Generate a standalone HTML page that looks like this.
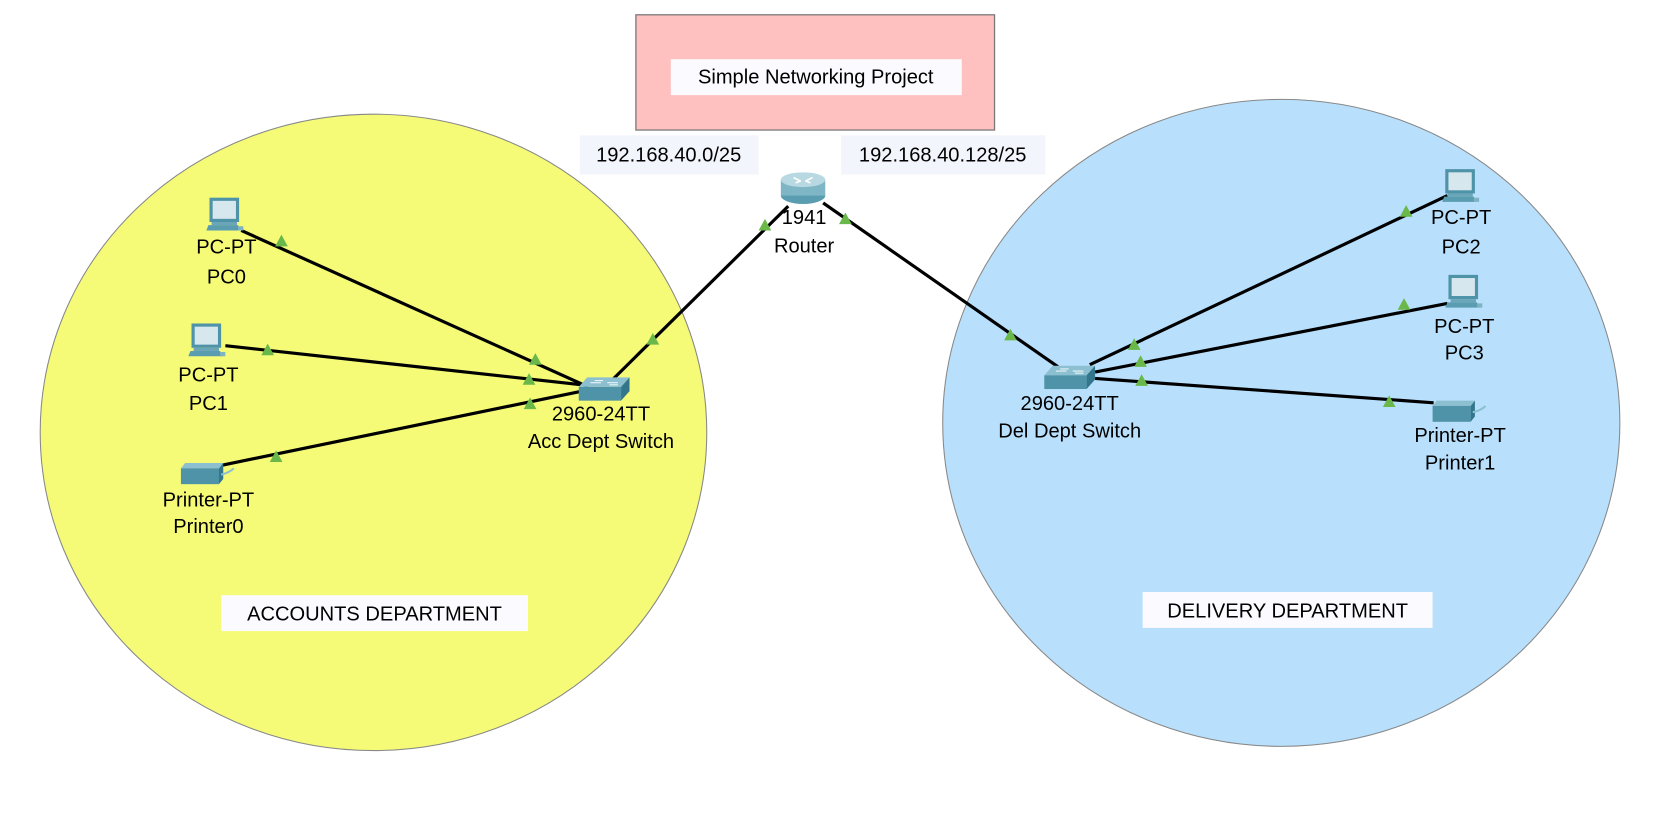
<!DOCTYPE html>
<html><head><meta charset="utf-8"><style>
html,body{margin:0;padding:0;background:#fff;width:1659px;height:814px;overflow:hidden}
svg{display:block}
text{font-family:"Liberation Sans",Arial,sans-serif;font-size:19px;fill:#000;text-anchor:middle}
</style></head><body>
<svg width="1659" height="814" viewBox="0 0 1568 770" preserveAspectRatio="none">
<defs>
<g id="pc">
<rect x="-14" y="-16" width="28" height="23" fill="#4f93a8"/>
<rect x="-11" y="-13" width="22" height="17" fill="#d7e7ee"/>
<rect x="-12" y="7" width="24" height="3" fill="#6aa6b8"/>
<polygon points="-17,15 15,15 13,10 -15,10" fill="#5a9db1"/>
<rect x="13" y="11" width="5" height="4" fill="#7fb3c3"/>
</g>
<g id="sw">
<polygon points="-23,0 -15,-9 25,-9 17,0" fill="#8cc0d0"/>
<rect x="-23" y="0" width="40" height="13" fill="#4f93a8"/>
<polygon points="17,0 25,-9 25,4 17,13" fill="#33768c"/>
<path d="M-12,-4 h10 M4,-4 h10 M-8,-6 h8 M6,-2 h8" stroke="#e8f4f8" stroke-width="1"/>
</g>
<g id="pr">
<polygon points="-19,-4 -15,-9 21,-9 17,-4" fill="#8cc0d0"/>
<rect x="-19" y="-4" width="36" height="15" fill="#4f93a8"/>
<polygon points="17,-4 21,-9 21,6 17,11" fill="#33768c"/>
<path d="M19,2 q8,-2 12,-6" stroke="#8cc0d0" stroke-width="2" fill="none"/>
</g>
<polygon id="tri" points="0,-6 6,5 -6,5" fill="#6ab84a"/>
</defs>
<ellipse cx="353" cy="409" rx="315" ry="301" fill="#f5fb77" stroke="#888" stroke-width="1"/>
<ellipse cx="1211" cy="400" rx="320" ry="306" fill="#b8e0fc" stroke="#888" stroke-width="1"/>
<rect x="601" y="14" width="339" height="109" fill="#ffc0c0" stroke="#777" stroke-width="1.2"/>
<rect x="634" y="56" width="275" height="34" fill="#fafaff"/>
<text x="771" y="79">Simple Networking Project</text>
<rect x="548" y="128" width="169" height="37" fill="#f3f5fc"/>
<text x="632" y="153">192.168.40.0/25</text>
<rect x="795" y="128" width="193" height="37" fill="#f3f5fc"/>
<text x="891" y="153">192.168.40.128/25</text>
<g stroke="#000" stroke-width="3" fill="none">
<line x1="228" y1="218" x2="556" y2="366"/>
<line x1="213" y1="327" x2="550" y2="364"/>
<line x1="210" y1="440" x2="550" y2="370"/>
<line x1="578" y1="360" x2="745" y2="195"/>
<line x1="778" y1="192" x2="1000" y2="347"/>
<line x1="1030" y1="345" x2="1368" y2="185"/>
<line x1="1035" y1="352" x2="1368" y2="287"/>
<line x1="1035" y1="358" x2="1355" y2="381"/>
</g>
<use href="#tri" x="266" y="228"/><use href="#tri" x="506" y="340"/>
<use href="#tri" x="253" y="331"/><use href="#tri" x="500" y="359"/>
<use href="#tri" x="261" y="432"/><use href="#tri" x="501" y="382"/>
<use href="#tri" x="617" y="321"/><use href="#tri" x="723" y="213"/>
<use href="#tri" x="799" y="207"/><use href="#tri" x="955" y="317"/>
<use href="#tri" x="1072" y="326"/><use href="#tri" x="1329" y="200"/>
<use href="#tri" x="1078" y="342"/><use href="#tri" x="1327" y="288"/>
<use href="#tri" x="1079" y="360"/><use href="#tri" x="1313" y="380"/>
<g>
<ellipse cx="759" cy="185" rx="21" ry="8" fill="#5a9db1"/>
<rect x="738" y="170" width="42" height="15" fill="#7fb6c6"/>
<ellipse cx="759" cy="170" rx="21" ry="7" fill="#b8d8e2"/>
<path d="M750,168 l6,3 M768,168 l-6,3 M752,173 l5,-2 M766,173 l-5,-2" stroke="#fff" stroke-width="1.5"/>
</g>
<text x="760" y="212">1941</text><text x="760" y="239">Router</text>
<use href="#sw" x="570" y="366"/>
<text x="568" y="398">2960-24TT</text><text x="568" y="424">Acc Dept Switch</text>
<use href="#sw" x="1010" y="355"/>
<text x="1011" y="388">2960-24TT</text><text x="1011" y="414">Del Dept Switch</text>
<use href="#pc" x="212" y="203"/>
<text x="214" y="240">PC-PT</text><text x="214" y="268">PC0</text>
<use href="#pc" x="195" y="322"/>
<text x="197" y="361">PC-PT</text><text x="197" y="388">PC1</text>
<use href="#pr" x="190" y="447"/>
<text x="197" y="479">Printer-PT</text><text x="197" y="504">Printer0</text>
<use href="#pc" x="1380" y="176"/>
<text x="1381" y="212">PC-PT</text><text x="1381" y="240">PC2</text>
<use href="#pc" x="1383" y="276"/>
<text x="1384" y="315">PC-PT</text><text x="1384" y="340">PC3</text>
<use href="#pr" x="1373" y="388"/>
<text x="1380" y="418">Printer-PT</text><text x="1380" y="444">Printer1</text>
<rect x="209" y="563" width="290" height="34" fill="#fafaff"/>
<text x="354" y="587">ACCOUNTS DEPARTMENT</text>
<rect x="1080" y="560" width="274" height="34" fill="#fafaff"/>
<text x="1217" y="584">DELIVERY DEPARTMENT</text>
</svg>
</body></html>
